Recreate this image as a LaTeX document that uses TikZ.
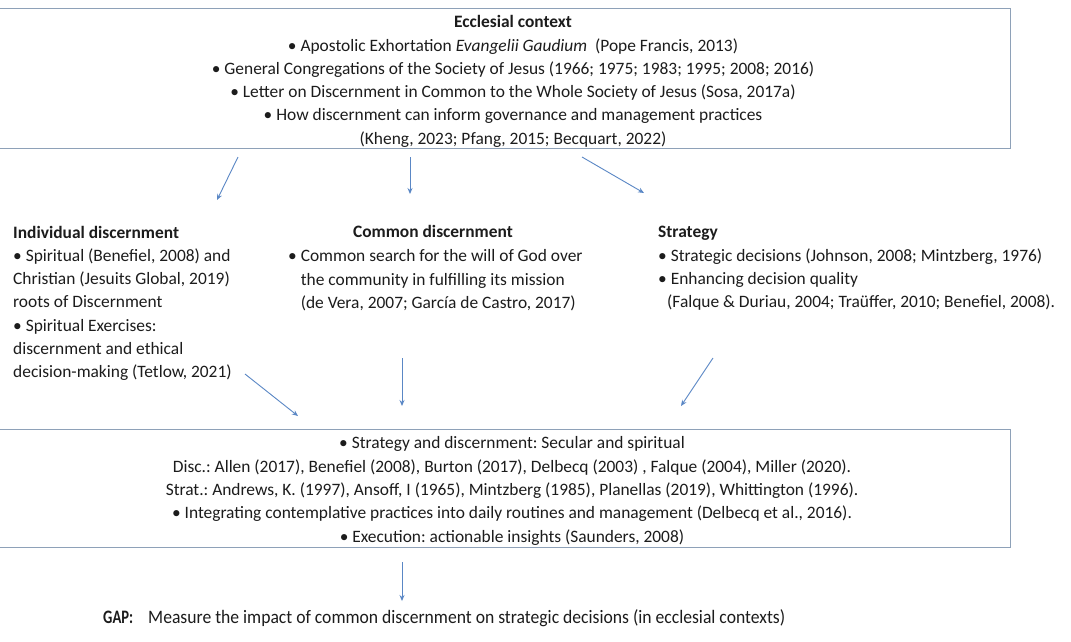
\documentclass[tikz,border=0pt]{standalone}
\usepackage{fontspec}
\setmainfont{Carlito}
\usetikzlibrary{arrows.meta}
\definecolor{boxline}{HTML}{8EA1B8}
\definecolor{arrowblue}{HTML}{5A87C5}
\definecolor{ink}{HTML}{1C1C1C}
\newcommand{\firstline}{\rule{0pt}{12pt}}
\frenchspacing
\begin{document}
\begin{tikzpicture}[x=1pt,y=-1pt,
  txt/.style={inner sep=0pt, text=ink, font=\fontsize{17.4}{23.3}\selectfont},
  gaptxt/.style={inner sep=0pt, text=ink, font=\fontsize{19}{23.3}\selectfont},
  frame/.style={draw=boxline, line width=1pt, inner sep=0pt, anchor=north west},
  link/.style={draw=arrowblue, line width=0.9pt, -{Stealth[length=6pt,width=5pt]}}]
\useasboundingbox (0,0) rectangle (1071,641);
\fill[white] (0,0) rectangle (1071,641);

% framed boxes
\node[frame, minimum width=1012pt, minimum height=140pt] (ctxbox) at (-2,8) {};
\node[frame, minimum width=1012pt, minimum height=118pt] (synbox) at (-2,429) {};

% ecclesial context
\node[txt, anchor=north, align=center] (ctx) at (513,15.3) {%
\firstline\textbf{Ecclesial context}\\
\textbullet\ Apostolic Exhortation \textit{Evangelii Gaudium}\ \ (Pope Francis, 2013)\\
\textbullet\ General Congregations of the Society of Jesus (1966; 1975; 1983; 1995; 2008; 2016)\\
\textbullet\ Letter on Discernment in Common to the Whole Society of Jesus (Sosa, 2017a)\\
\textbullet\ How discernment can inform governance and management practices\\
(Kheng, 2023; Pfang, 2015; Becquart, 2022)};

% three middle columns
\node[txt, anchor=north west, align=left] (indiv) at (13,225.6) {%
\firstline\textbf{Individual discernment}\\
\textbullet\ Spiritual (Benefiel, 2008) and\\
Christian (Jesuits Global, 2019)\\
roots of Discernment\\
\textbullet\ Spiritual Exercises:\\
discernment and ethical\\
decision-making (Tetlow, 2021)};

\node[txt, anchor=base] (commontitle) at (433,237.6) {\textbf{Common discernment}};
\node[txt, anchor=north west, align=left] (common) at (288,249.6) {%
\firstline\textbullet\ Common search for the will of God over\\
\phantom{\textbullet\ }the community in fulfilling its mission\\
\phantom{\textbullet\ }(de Vera, 2007; García de Castro, 2017)};

\node[txt, anchor=north west, align=left] (strat) at (658,225.6) {%
\firstline\textbf{Strategy}\\
\textbullet\ Strategic decisions (Johnson, 2008; Mintzberg, 1976)\\
\textbullet\ Enhancing decision quality\\
\hspace*{9pt}(Falque \& Duriau, 2004; Traüffer, 2010; Benefiel, 2008).};

% synthesis box text
\node[txt, anchor=north, align=center] (syn) at (512,436.6) {%
\firstline\textbullet\ Strategy and discernment: Secular and spiritual\\
Disc.: Allen (2017), Benefiel (2008), Burton (2017), Delbecq (2003) , Falque (2004), Miller (2020).\\
Strat.: Andrews, K. (1997), Ansoff, I (1965), Mintzberg (1985), Planellas (2019), Whittington (1996).\\
\textbullet\ Integrating contemplative practices into daily routines and management (Delbecq et al., 2016).\\
\textbullet\ Execution: actionable insights (Saunders, 2008)};

% research gap, set in a condensed cut
\node[gaptxt, anchor=base west] (gaplabel) at (103,623) {\resizebox{30pt}{\height}{\textbf{GAP:}}};
\node[gaptxt, anchor=base west] (gap) at (148,623) {\resizebox{637pt}{\height}{Measure the impact of common discernment on strategic decisions (in ecclesial contexts)}};

% arrow end points
\coordinate (a1s) at (238,157); \coordinate (a1e) at (217,200);
\coordinate (a2s) at (410,157); \coordinate (a2e) at (410,194);
\coordinate (a3s) at (582,157); \coordinate (a3e) at (644,193);
\coordinate (a4s) at (245,374); \coordinate (a4e) at (298,416);
\coordinate (a5s) at (402,358); \coordinate (a5e) at (402,406);
\coordinate (a6s) at (713,358); \coordinate (a6e) at (681,406);
\coordinate (a7s) at (402,562); \coordinate (a7e) at (402,601);

\draw[link] (a1s) -- (a1e);
\draw[link] (a2s) -- (a2e);
\draw[link] (a3s) -- (a3e);
\draw[link] (a4s) -- (a4e);
\draw[link] (a5s) -- (a5e);
\draw[link] (a6s) -- (a6e);
\draw[link] (a7s) -- (a7e);
\end{tikzpicture}
\end{document}
